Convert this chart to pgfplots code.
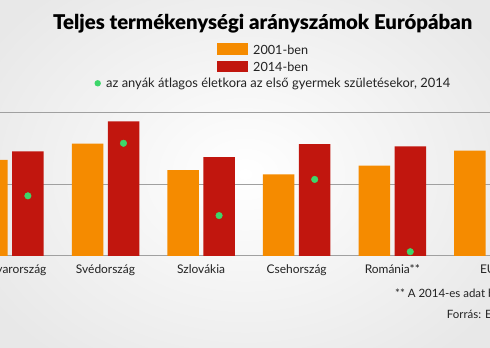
\documentclass[border=0pt]{standalone}
\usepackage{pgfplots}
\pgfplotsset{compat=1.18}
\usepackage{fontspec}
\setmainfont{Lato}
\newfontfamily\titlefont{Lato Black}
\definecolor{orng}{HTML}{F58B00}
\definecolor{rd}{HTML}{C1160E}
\definecolor{grn}{HTML}{3DD66A}
\definecolor{grd}{HTML}{A0A0A0}
\definecolor{txt}{HTML}{222222}
\begin{document}
\begin{tikzpicture}
\useasboundingbox (0bp,0bp) rectangle (490bp,348bp);
\clip (0bp,0bp) rectangle (490bp,348bp);
\shade[inner color=white, outer color=black!9] (-60bp,-60bp) rectangle (550bp,408bp);
\node[anchor=base west, inner sep=0, text=black] at (53bp,318.7bp) {\resizebox{419bp}{!}{\titlefont Teljes termékenységi arányszámok Európában}};
\fill[orng] (216.7bp,293bp) rectangle (248.3bp,304.7bp);
\node[anchor=base west, inner sep=0, text=txt, font=\fontsize{12.7}{13}\selectfont] at (253bp,293.7bp) {2001-ben};
\fill[rd] (216.7bp,276.3bp) rectangle (248.3bp,287.3bp);
\node[anchor=base west, inner sep=0, text=txt, font=\fontsize{12.7}{13}\selectfont] at (253bp,276.3bp) {2014-ben};
\fill[grn] (97.7bp,264.7bp) circle (3.2bp);
\node[anchor=base west, inner sep=0, text=txt] at (106bp,260.3bp) {\resizebox{344bp}{!}{az anyák átlagos életkora az első gyermek születésekor, 2014}};
\node[anchor=base west, inner sep=0, text=txt, font=\fontsize{11.5}{12}\selectfont] at (395bp,50.3bp) {** A 2014-es adat becslés};
\node[anchor=base west, inner sep=0, text=txt, font=\fontsize{11.5}{12}\selectfont] at (446.7bp,29.7bp) {Forrás: Eurostat};
\begin{axis}[at={(0bp,92bp)}, anchor=south west, scale only axis, width=490bp, height=143.3bp,
  xmin=-0.1036, xmax=5.022, ymin=0, ymax=2,
  ytick={0,1,2}, yticklabels={}, ymajorgrids, major grid style={grd, line width=1bp},
  axis line style={draw=none}, major tick length=0,
  xtick={0,1,2,3,4,5}, xticklabels={Magyarország, Svédország, Szlovákia, Csehország, Románia**, EU},
  xticklabel style={anchor=base, yshift=-17.3bp, inner sep=0pt, font=\fontsize{12}{12}\selectfont, text=txt},
  ybar, bar width=31.5bp, clip=true]
\addplot[fill=orng, draw=none, bar shift=-18bp] coordinates {(0,1.34) (1,1.57) (2,1.20) (3,1.14) (4,1.26) (5,1.47)};
\addplot[fill=rd, draw=none, bar shift=18bp] coordinates {(0,1.46) (1,1.88) (2,1.38) (3,1.56) (4,1.53) (5,1.58)};
\end{axis}
\begin{axis}[at={(0bp,92bp)}, anchor=south west, scale only axis, width=490bp, height=143.3bp,
  xmin=-0.1036, xmax=5.022, ymin=25.87, ymax=30.23, hide axis]
\addplot[only marks, mark=*, mark size=3.3bp, color=grn, mark options={draw=none, fill=grn}] coordinates {(0.188,27.7) (1.188,29.3) (2.188,27.1) (3.188,28.2) (4.188,26.0)};
\end{axis}
\end{tikzpicture}
\end{document}
